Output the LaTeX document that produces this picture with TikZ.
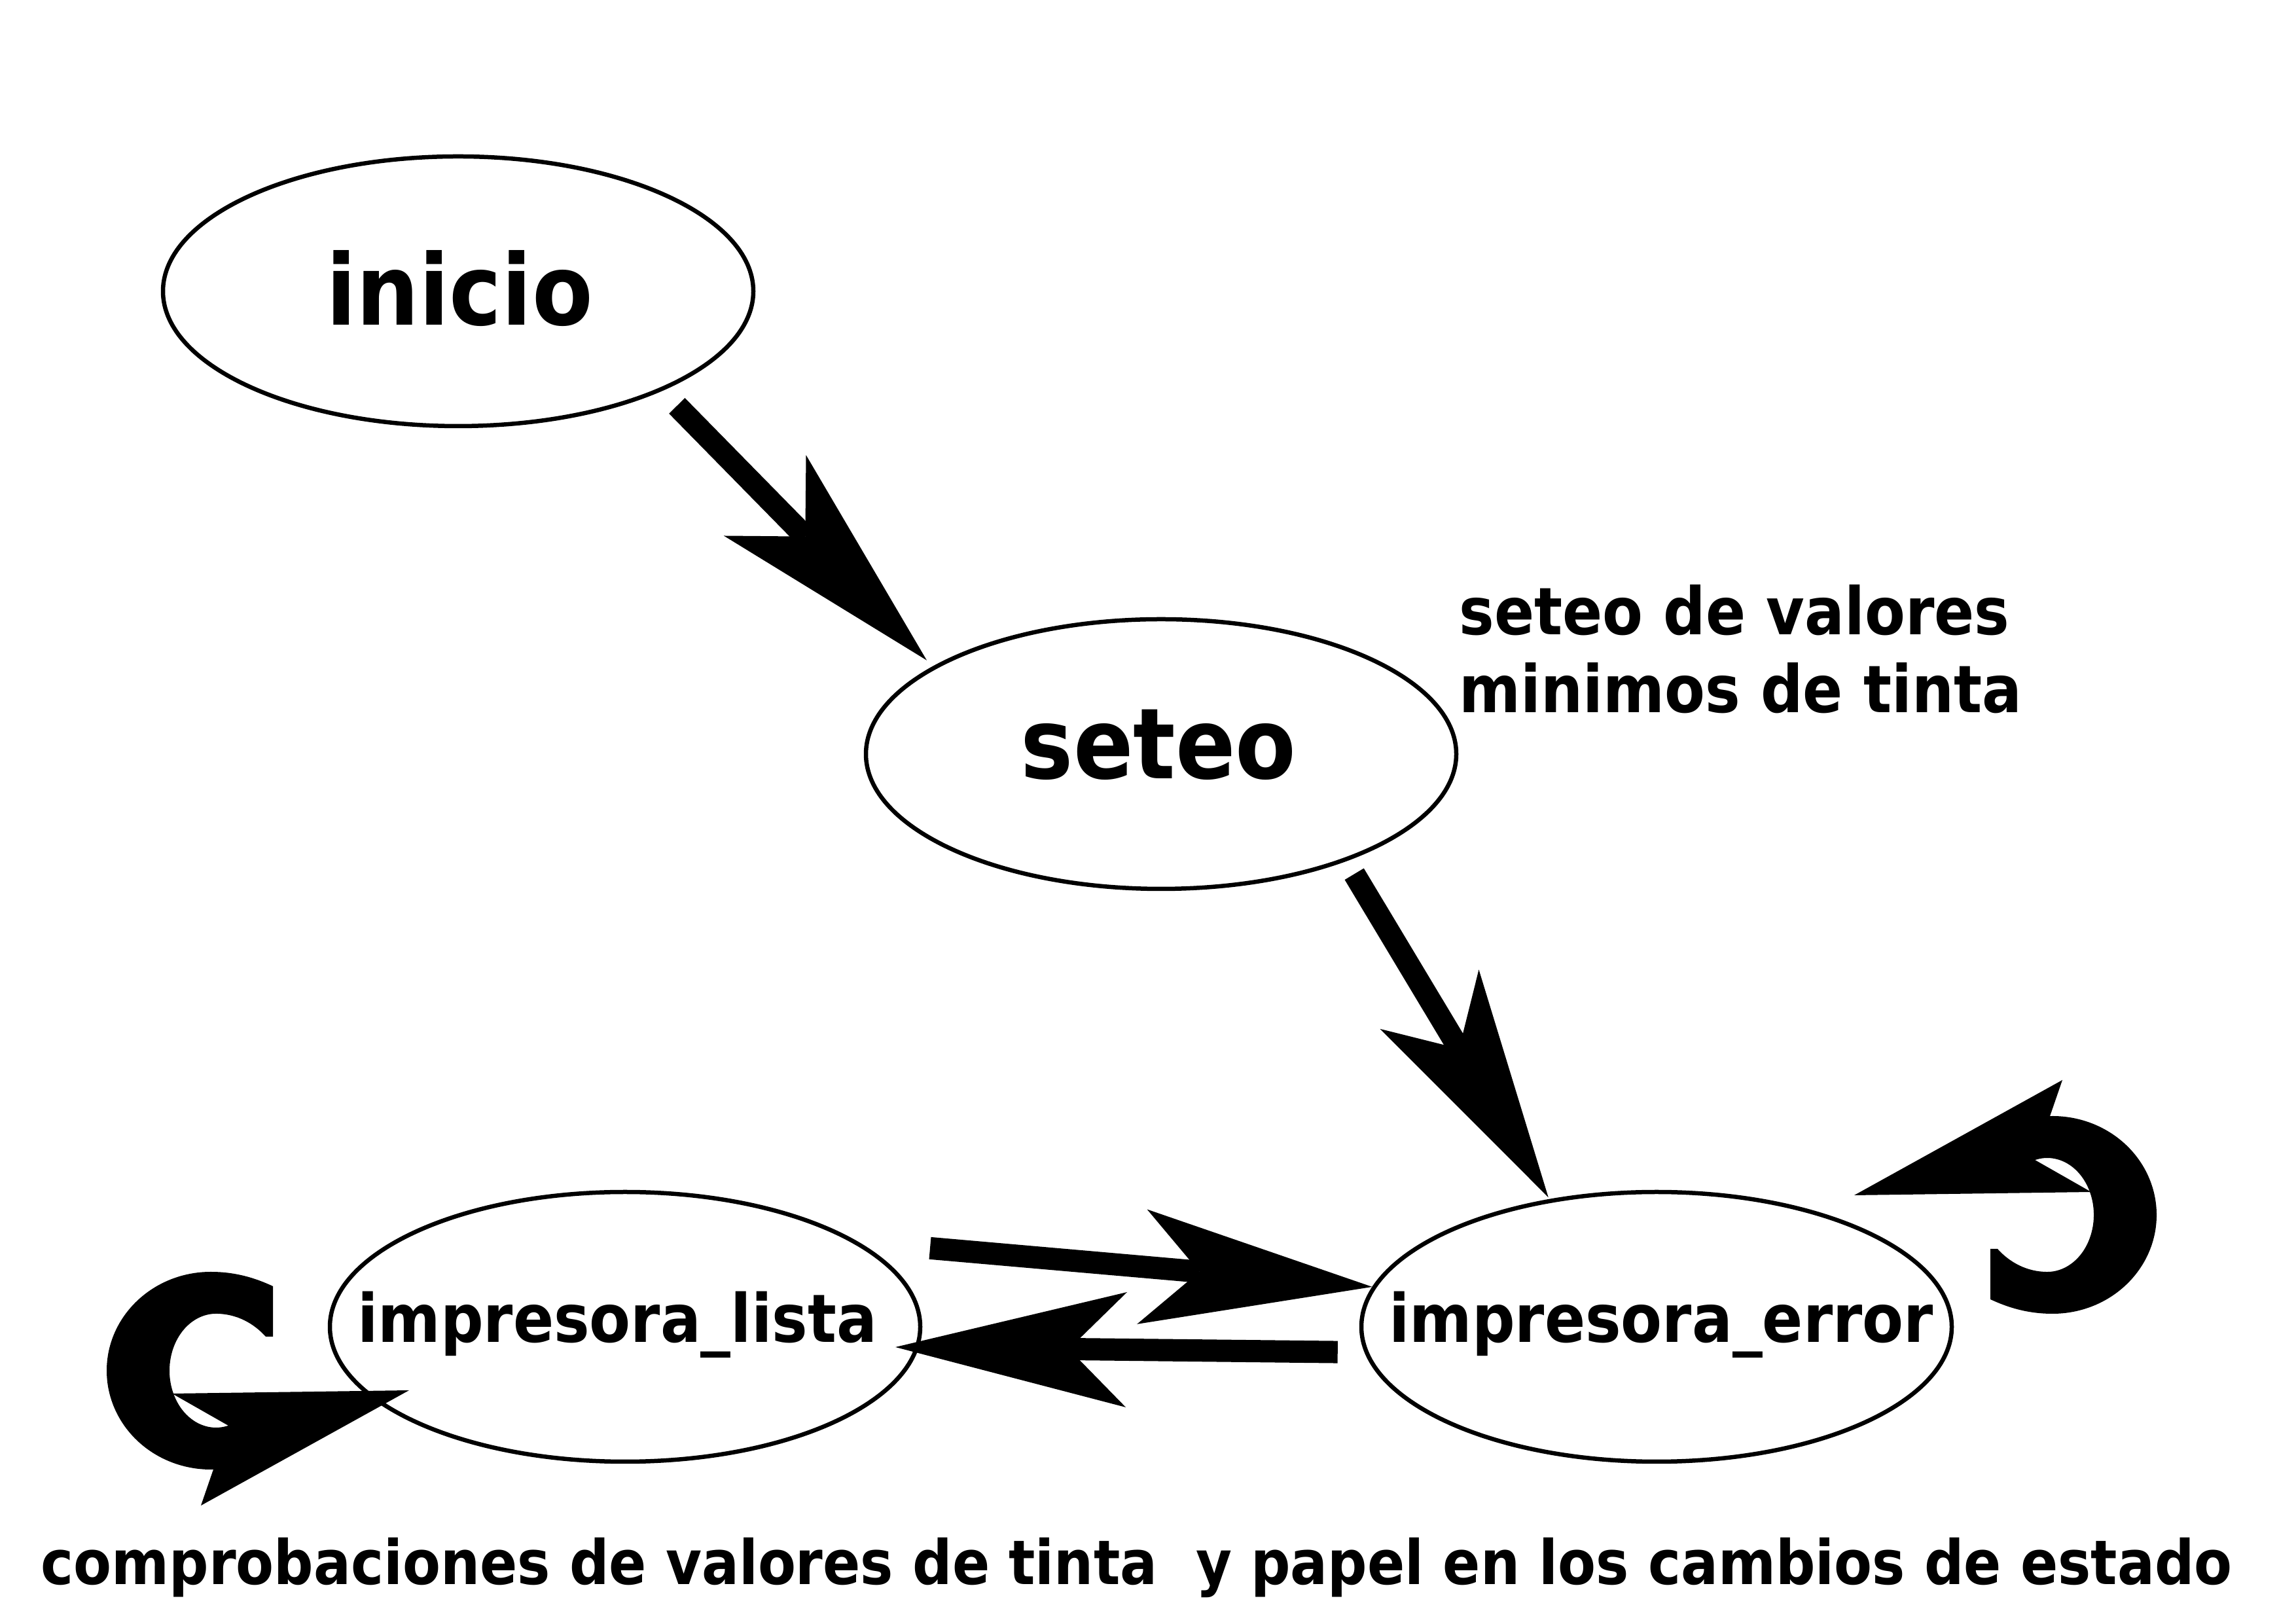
\documentclass[tikz,border=0pt]{standalone}
\usepackage{fontspec}
\newfontfamily\cb{DejaVu Sans Condensed Bold}
\usetikzlibrary{arrows.meta,shapes.geometric,calc}
\newcommand\selfloopshape{%
  \fill (0.95,1.29) .. controls (0.63,1.44) and (0.33,1.51) .. (0,1.51)
    arc[start angle=90, end angle=290, x radius=1.59, y radius=1.51]
    -- (0.435,-0.753)
    arc[start angle=300, end angle=90, x radius=0.71, y radius=0.87]
    .. controls (0.40,0.87) and (0.66,0.72) .. (0.84,0.52) -- (0.95,0.52) -- cycle;
  \fill (3.03,-0.30) -- (-0.59,-0.35) -- (0.27,-0.84) -- (-0.15,-2.06) -- cycle;}
\begin{document}
\begin{tikzpicture}[
  state/.style={ellipse, draw, line width=0.065cm, minimum width=9.02cm,
    minimum height=4.12cm, inner sep=0pt},
  big/.style={font=\cb\fontsize{42.7}{50}\selectfont, inner sep=0pt, anchor=base},
  lbl/.style={font=\cb\fontsize{29}{34}\selectfont, inner sep=0pt, anchor=base},
  note/.style={font=\cb\fontsize{28.5}{34.1}\selectfont, inner sep=0pt, anchor=base west, align=left},
  bot/.style={font=\cb\fontsize{26.7}{32}\selectfont, inner sep=0pt, anchor=base west},
  arr/.style={line width=0.34cm,
    -{Stealth[length=3.53cm, width=1.76cm, inset=0.88cm, line width=0pt]}}
]
\fill[white] (0,0) rectangle (35.08,24.80);
\useasboundingbox (0,0) rectangle (35.08,24.80);

\node[state] (inicio) at (7.00,20.35) {};
\node[state] (seteo) at (17.74,13.28) {};
\node[state] (lista) at (9.55,4.53) {};
\node[state] (error) at (25.31,4.53) {};

\node[big] (tinicio) at (7.02,19.83) {inicio};
\node[big] (tseteo) at (17.70,12.90) {seteo};
\node[lbl] (tlista) at (9.43,4.29) {impresora\_lista};
\node[lbl] (terror) at (25.38,4.29) {impresora\_error};

\node[note] (nota) at (22.29,13.91) {seteo de valores\\minimos de tinta};
\node[bot] (pie) at (0.62,0.60) {comprobaciones de valores de tinta\ \ y papel en los cambios de estado};

\draw[arr, shorten <=0.32cm, shorten >=0.13cm] (inicio.-26.7) -- (seteo.159.4);
\draw[arr, shorten <=0.23cm, shorten >=0.03cm] (seteo.-30.8) -- (error.130.9);
\draw[arr, shorten <=1.10cm] (lista.20.8) -- (error.172.7);
\draw[arr, shorten <=0.41cm, shorten >=-0.36cm] (error.185.1) -- (lista.-4.3);

\begin{scope}[shift={($(lista.center)+(-6.33,-0.67)$)}]
  \selfloopshape
\end{scope}
\begin{scope}[shift={($(error.center)+(6.05,1.71)$)}, rotate=180]
  \selfloopshape
\end{scope}
\end{tikzpicture}
\end{document}
